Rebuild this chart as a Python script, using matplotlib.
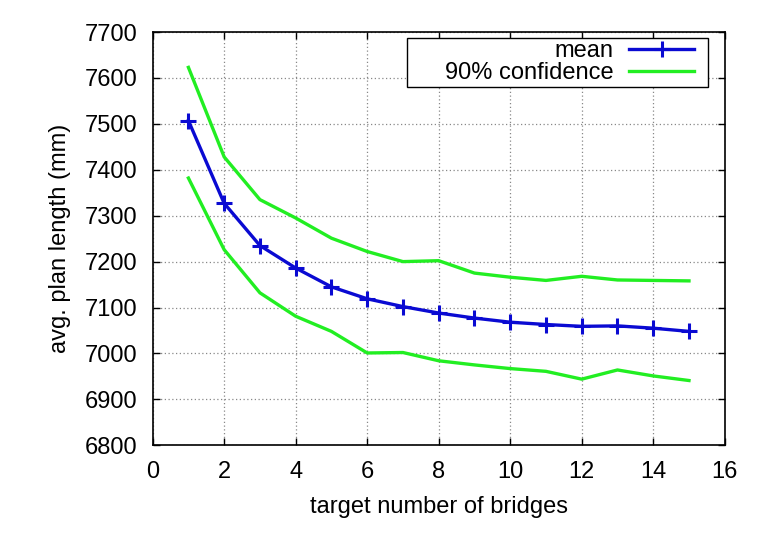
import matplotlib
matplotlib.use("Agg")
import matplotlib.pyplot as plt
from matplotlib.patches import Rectangle

# values
bridges = [1, 2, 3, 4, 5, 6, 7, 8, 9, 10, 11, 12, 13, 14, 15]
mean_len = [7507, 7327, 7235, 7186, 7145, 7119, 7102, 7088, 7077, 7068, 7063, 7059, 7060, 7055, 7048]
upper_len = [7623, 7428, 7335, 7295, 7251, 7222, 7200, 7202, 7175, 7166, 7159, 7168, 7160, 7159, 7158]
lower_len = [7382, 7226, 7132, 7081, 7048, 7001, 7002, 6984, 6975, 6967, 6961, 6944, 6964, 6951, 6941]

plt.rcParams["font.family"] = ["Liberation Sans", "DejaVu Sans"]
plt.rcParams["font.size"] = 17

fig = plt.figure(figsize=(7.71, 5.43), dpi=100)
ax = fig.add_axes([0.198, 0.180, 0.742, 0.761])

ax.plot(bridges, mean_len, color="#0a0ad2", lw=2.4, marker="+", ms=11, mew=2.2, label="mean", zorder=3)
ax.plot(bridges, upper_len, color="#22ee22", lw=2.4, label="90% confidence", zorder=2)
ax.plot(bridges, lower_len, color="#22ee22", lw=2.4, zorder=2)

ax.set_xlim(0, 16)
ax.set_ylim(6800, 7700)
ax.set_xticks(range(0, 17, 2))
ax.set_yticks(range(6800, 7701, 100))
ax.grid(True, color="#888888", linestyle=(0, (1, 2)), lw=0.9)
ax.tick_params(direction="in", top=True, right=True, length=5, width=1, pad=11)
for s in ax.spines.values():
    s.set_linewidth(1.2)

ax.set_xlabel("target number of bridges", labelpad=10)
ax.set_ylabel("avg. plan length (mm)", labelpad=10)

# gnuplot-style key: text right-aligned, sample on the right
leg = ax.legend(loc="upper right", bbox_to_anchor=(0.951, 0.9855), markerfirst=False,
                frameon=False, borderpad=0.1, handlelength=2.75, labelspacing=0.0,
                handletextpad=0.68, borderaxespad=0.0)

# square frame around the key, wider than the entries like gnuplot's
fig.canvas.draw()
bb = leg.get_window_extent()
key_w = 301
box = Rectangle((bb.x1 + 11 - key_w, bb.y0), key_w, bb.height, transform=None,
                facecolor="white", edgecolor="black", lw=1.0, zorder=4)
ax.add_artist(box)
leg.set_zorder(5)

fig.savefig("out.png", dpi=100)
